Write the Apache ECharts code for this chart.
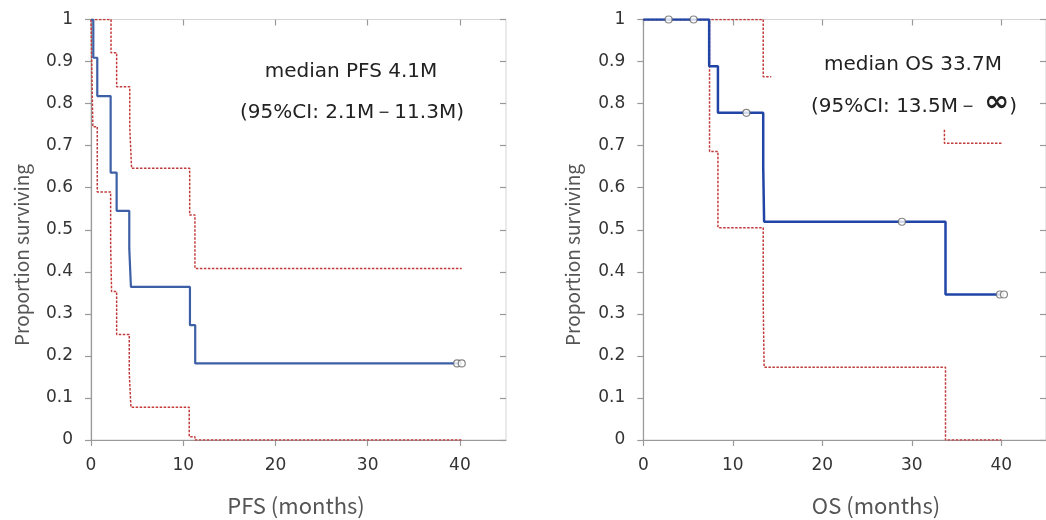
<!DOCTYPE html>
<html>
<head>
<meta charset="utf-8">
<script src="https://cdn.jsdelivr.net/npm/echarts@6/dist/echarts.min.js"></script>
<style>html,body{margin:0;padding:0;background:#fff}#c{width:1046px;height:520px}</style>
</head>
<body>
<div id="c"></div>
<script>
// ---- data (months, proportion surviving) ----
var xTicks = [0, 10, 20, 30, 40];

// PFS
var pfsT      = [0, 0.25, 0.68, 2.13, 2.78, 4.15, 4.33, 10.73, 11.3, 40.2];
var pfsS      = [1, 0.909, 0.818, 0.636, 0.545, 0.455, 0.364, 0.273, 0.182, 0.182];
var pfsUpT    = [0, 2.17, 2.78, 4.2, 4.4, 10.7, 11.27, 40.2];
var pfsUpS    = [1, 0.921, 0.84, 0.745, 0.646, 0.535, 0.408, 0.408];
var pfsLoT    = [0, 0.2, 0.68, 2.13, 2.23, 2.78, 4.15, 4.33, 10.65, 11.27, 40.2];
var pfsLoS    = [1, 0.745, 0.59, 0.464, 0.353, 0.251, 0.159, 0.078, 0.008, 0, 0];
var pfsCensT  = [39.7, 40.2];
var pfsCensS  = [0.182, 0.182];

// OS
var osT       = [0, 7.36, 8.34, 13.4, 13.5, 33.77, 40.3];
var osS       = [1, 0.889, 0.778, 0.65, 0.519, 0.346, 0.346];
var osUpAT    = [0, 13.4, 14.3];
var osUpAS    = [1, 0.864, 0.864];
var osUpBT    = [33.65, 33.65, 40.2];
var osUpBS    = [0.738, 0.706, 0.706];
var osLoT     = [0, 7.4, 8.34, 13.4, 13.5, 33.77, 40];
var osLoS     = [1, 0.686, 0.505, 0.325, 0.173, 0, 0];
var osCensT   = [2.83, 5.62, 11.52, 28.9, 39.85, 40.3];
var osCensS   = [1, 1, 0.778, 0.519, 0.346, 0.346];

// ---- build ----
function zip(a, b) { return a.map(function (v, i) { return [v, b[i]]; }); }

var chart = echarts.init(document.getElementById('c'), null, {renderer: 'canvas'});
var tickFont = 'DejaVu Sans';
var axisColor = '#9a9a9a';

function xAx(g, overlay) {
  return {
    type: 'value', gridIndex: g, min: 0, max: 45, interval: 10,
    axisLine: {show: !overlay, onZero: false, lineStyle: {color: axisColor, width: 1.2}},
    axisTick: {show: true, inside: overlay, length: 6, customValues: xTicks, lineStyle: {color: axisColor, width: 1.2}},
    axisLabel: {show: !overlay, customValues: xTicks, margin: 17, fontFamily: tickFont, fontSize: 17, color: '#333'},
    splitLine: {show: false}
  };
}
function yAx(g, overlay) {
  return {
    type: 'value', gridIndex: g, min: 0, max: 1, interval: 0.1,
    axisLine: {show: !overlay, onZero: false, lineStyle: {color: axisColor, width: 1.2}},
    axisTick: {show: true, inside: overlay, length: 6, lineStyle: {color: axisColor, width: 1.2}},
    axisLabel: {show: !overlay, margin: 18, fontFamily: tickFont, fontSize: 17, color: '#333',
      formatter: function (v) { return String(Math.round(v * 10) / 10); }},
    splitLine: {show: false}
  };
}
function line(data, g, color, width, dashed, z) {
  return {
    type: 'line', xAxisIndex: g, yAxisIndex: g, data: data, step: 'end',
    showSymbol: false, symbol: 'none', silent: true, z: z,
    lineStyle: {color: color, width: width, type: dashed ? [2.5, 1.5] : 'solid'}
  };
}
function cens(data, g) {
  return {
    type: 'scatter', xAxisIndex: g, yAxisIndex: g, data: data, symbol: 'circle', symbolSize: 7, z: 10,
    itemStyle: {color: '#fff', borderColor: '#666', borderWidth: 1.2}
  };
}
var red = '#c23b3b';

var titleFont = 'Noto Sans CJK JP';
var option = {
  animation: false,
  backgroundColor: '#fff',
  grid: [
    {left: 91, top: 19.5, width: 415, height: 420.5, show: true, borderColor: '#d4d4d4', borderWidth: 1},
    {left: 643.3, top: 19.5, width: 414, height: 420.5, show: true, borderColor: '#d4d4d4', borderWidth: 1}
  ],
  xAxis: [xAx(0, false), xAx(1, false), xAx(0, true), xAx(1, true)],
  yAxis: [yAx(0, false), yAx(1, false), yAx(0, true), yAx(1, true)],
  series: [
    line(zip(pfsUpT, pfsUpS), 0, red, 1.5, true, 3),
    line(zip(pfsLoT, pfsLoS), 0, red, 1.5, true, 3),
    line(zip(pfsT, pfsS), 0, '#3d5fa6', 2.2, false, 5),
    cens(zip(pfsCensT, pfsCensS), 0),
    line(zip(osUpAT, osUpAS), 1, red, 1.5, true, 3),
    line(zip(osUpBT, osUpBS), 1, red, 1.5, true, 3),
    line(zip(osLoT, osLoS), 1, red, 1.5, true, 3),
    line(zip(osT, osS), 1, '#2145a6', 2.5, false, 5),
    cens(zip(osCensT, osCensS), 1)
  ],
  graphic: [
    {type: 'text', x: 351, y: 72, style: {text: 'median PFS 4.1M', font: '20px "DejaVu Sans"', fill: '#222', align: 'center', verticalAlign: 'middle'}},
    {type: 'text', x: 352, y: 113, style: {text: '(95%CI: 2.1M－11.3M)', font: '20px "DejaVu Sans"', fill: '#222', align: 'center', verticalAlign: 'middle'}},
    {type: 'text', x: 913, y: 65, style: {text: 'median OS 33.7M', font: '20px "DejaVu Sans"', fill: '#222', align: 'center', verticalAlign: 'middle'}},
    {type: 'text', x: 914, y: 107, style: {text: '(95%CI: 13.5M－ {inf|∞})', font: '20px "DejaVu Sans"', fill: '#222', align: 'center', verticalAlign: 'middle',
      rich: {inf: {font: 'bold 30px "DejaVu Sans"', fill: '#222', padding: [0, 0, 8, 0]}}}},
    {type: 'text', x: 296, y: 506, style: {text: 'PFS (months)', font: '22px "' + titleFont + '"', fill: '#555', align: 'center', verticalAlign: 'middle'}},
    {type: 'text', x: 876, y: 506, style: {text: 'OS (months)', font: '22px "' + titleFont + '"', fill: '#555', align: 'center', verticalAlign: 'middle'}},
    {type: 'text', x: 22, y: 255, rotation: Math.PI / 2, style: {text: 'Proportion surviving', font: '19px "' + titleFont + '"', fill: '#555', align: 'center', verticalAlign: 'middle'}},
    {type: 'text', x: 573, y: 255, rotation: Math.PI / 2, style: {text: 'Proportion surviving', font: '19px "' + titleFont + '"', fill: '#555', align: 'center', verticalAlign: 'middle'}}
  ]
};
chart.setOption(option);
</script>
</body>
</html>
